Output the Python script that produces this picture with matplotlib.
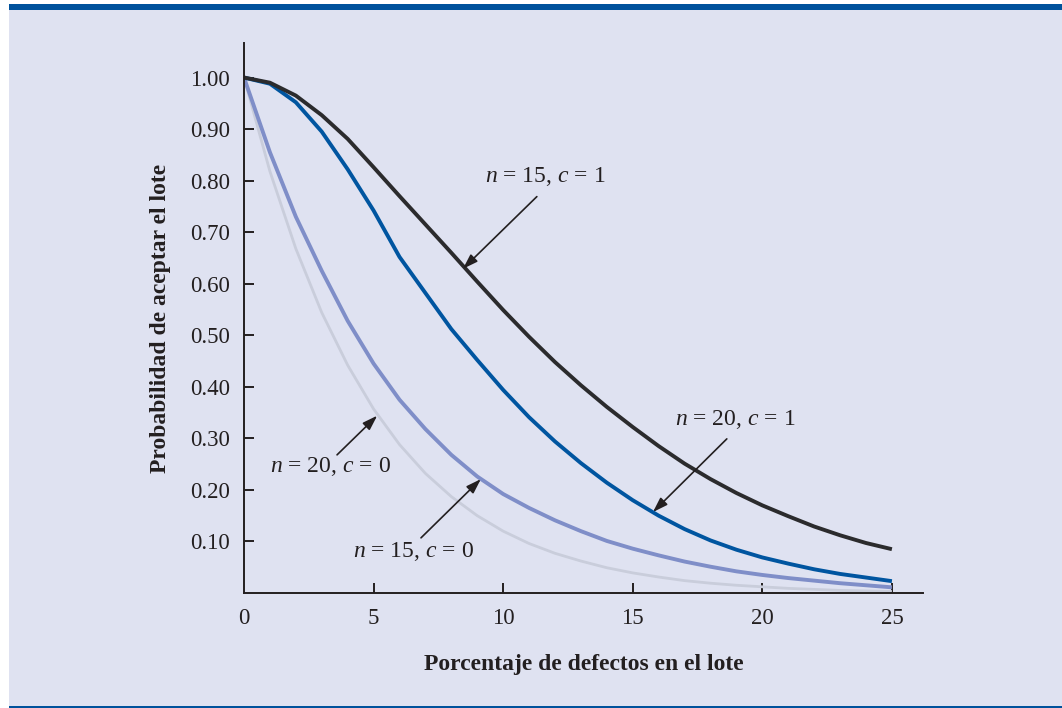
import matplotlib
matplotlib.use("Agg")
import matplotlib.pyplot as plt
from matplotlib.patches import Rectangle

plt.rcParams['font.family'] = ['Liberation Serif', 'DejaVu Serif']
plt.rcParams['mathtext.fontset'] = 'custom'
plt.rcParams['mathtext.rm'] = 'Liberation Serif'
plt.rcParams['mathtext.it'] = 'Liberation Serif:italic'

# porcentaje de defectos (0..25)
pct = list(range(26))

# probabilidad de aceptar el lote
n15_c1 = [1.0, 0.990, 0.965, 0.927, 0.881, 0.826, 0.770, 0.715, 0.660, 0.604,
          0.549, 0.497, 0.448, 0.403, 0.361, 0.322, 0.285, 0.251, 0.221, 0.194,
          0.170, 0.149, 0.129, 0.112, 0.097, 0.085]
n20_c1 = [1.0, 0.988, 0.952, 0.895, 0.822, 0.742, 0.652, 0.582, 0.512, 0.452,
          0.394, 0.341, 0.294, 0.252, 0.214, 0.180, 0.150, 0.124, 0.102, 0.084,
          0.069, 0.057, 0.046, 0.037, 0.030, 0.023]
n15_c0 = [1.0, 0.855, 0.730, 0.625, 0.528, 0.445, 0.375, 0.318, 0.268, 0.226,
          0.192, 0.165, 0.141, 0.120, 0.101, 0.086, 0.073, 0.061, 0.051, 0.042,
          0.035, 0.029, 0.024, 0.019, 0.015, 0.011]
n20_c0 = [1.0, 0.818, 0.668, 0.544, 0.442, 0.357, 0.288, 0.232, 0.187, 0.150,
          0.120, 0.096, 0.077, 0.062, 0.049, 0.039, 0.031, 0.024, 0.019, 0.015,
          0.012, 0.009, 0.007, 0.005, 0.004, 0.003]

yticks = [0.1, 0.2, 0.3, 0.4, 0.5, 0.6, 0.7, 0.8, 0.9, 1.0]
ytick_labels = ["0.10", "0.20", "0.30", "0.40", "0.50", "0.60", "0.70", "0.80", "0.90", "1.00"]
xticks = [0, 5, 10, 15, 20, 25]

W, H = 1062, 708
fig = plt.figure(figsize=(W / 100, H / 100), dpi=100, facecolor="white")

# fondo y barras azules
fig.patches.append(Rectangle((9 / W, 2 / H), 1 - 9 / W, 697 / H, transform=fig.transFigure,
                             facecolor="#dfe2f1", edgecolor="none", zorder=-10))
fig.patches.append(Rectangle((9 / W, 698 / H), 1 - 9 / W, 6 / H, transform=fig.transFigure,
                             facecolor="#00529c", edgecolor="none", zorder=-9))
fig.patches.append(Rectangle((9 / W, 0), 1 - 9 / W, 2.5 / H, transform=fig.transFigure,
                             facecolor="#00529c", edgecolor="none", zorder=-9))

ax = fig.add_axes([244 / W, 115 / H, 679 / W, 550 / H])
ax.set_facecolor("none")

ax.plot(pct, n20_c0, color="#c9cddb", lw=2.0, solid_capstyle="butt")
ax.plot(pct, n15_c0, color="#7f8ec8", lw=2.8, solid_capstyle="butt")
ax.plot(pct, n20_c1, color="#0055a0", lw=2.8, solid_capstyle="butt")
ax.plot(pct, n15_c1, color="#2b2b2d", lw=2.8, solid_capstyle="butt")

ax.set_xlim(0, 26.2)
ax.set_ylim(0, 1.067)
for s in ["top", "right"]:
    ax.spines[s].set_visible(False)
for s in ["left", "bottom"]:
    ax.spines[s].set_color("#231f20")
    ax.spines[s].set_linewidth(1.4)

ax.set_yticks(yticks)
ax.set_yticklabels(ytick_labels)
ax.set_xticks(xticks)
ax.tick_params(axis="both", direction="in", length=7, width=1.4, color="#231f20",
               labelsize=16.5, labelcolor="#231f20")
ax.tick_params(axis="y", pad=10)
ax.tick_params(axis="x", pad=11)
ax.xaxis.get_major_ticks()[0].tick1line.set_visible(False)

ax.set_xlabel("Porcentaje de defectos en el lote", fontsize=17, fontweight="bold",
              color="#231f20", labelpad=18)
ax.set_ylabel("Probabilidad de aceptar el lote", fontsize=17, fontweight="bold",
              color="#231f20", labelpad=14)

arrow = dict(arrowstyle="-|>,head_length=0.9,head_width=0.3", color="#231f20", lw=1.2,
             shrinkA=0, shrinkB=0)
txt = dict(fontsize=17, color="#231f20", ha="center", va="center")
ax.annotate("", xy=(8.45, 0.629), xytext=(11.30, 0.769), arrowprops=arrow)
ax.text(11.61, 0.808, "$n$ = 15, $c$ = 1", **txt)
ax.annotate("", xy=(15.78, 0.157), xytext=(18.63, 0.299), arrowprops=arrow)
ax.text(18.94, 0.336, "$n$ = 20, $c$ = 1", **txt)
ax.annotate("", xy=(5.14, 0.344), xytext=(3.59, 0.268), arrowprops=arrow)
ax.text(3.32, 0.245, "$n$ = 20, $c$ = 0", **txt)
ax.annotate("", xy=(9.14, 0.221), xytext=(6.83, 0.107), arrowprops=arrow)
ax.text(6.52, 0.080, "$n$ = 15, $c$ = 0", **txt)

fig.savefig("out.png", dpi=100, facecolor="white")
